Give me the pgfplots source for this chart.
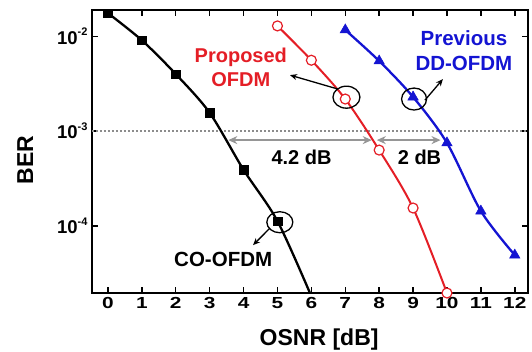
\documentclass[border=0pt]{standalone}
\usepackage{fontspec}
\setmainfont{Liberation Sans}
\usepackage{pgfplots}
\pgfplotsset{compat=1.18}
\usetikzlibrary{arrows.meta}
\definecolor{myred}{RGB}{228,30,38}
\definecolor{myblue}{RGB}{20,20,210}
\definecolor{mygray}{RGB}{150,150,150}
\definecolor{dotgray}{RGB}{140,140,140}
\newcommand{\mysup}[1]{\raisebox{0.85ex}{\fontsize{11}{11}\selectfont #1}}
\begin{document}
\begin{tikzpicture}
\begin{semilogyaxis}[
  at={(0,0)}, anchor=south west,
  scale only axis, width=436pt, height=283pt,
  xmin=-0.47, xmax=12.39, ymin=1.95e-5, ymax=1.9e-2,
  xtick={0,...,12},
  ytick={1e-4,1e-3,1e-2},
  yticklabels={10\mysup{-4},10\mysup{-3},10\mysup{-2}},
  minor tick style={draw=none},
  tick align=inside,
  xtick pos=both, ytick pos=both,
  axis line style={line width=1.8pt},
  major tick style={line width=1.5pt, black},
  major tick length=6pt,
  /pgf/number format/assume math mode=true,
  xticklabel style={font=\bfseries\fontsize{16}{16}\selectfont, xscale=1.3, yshift=-1pt},
  yticklabel style={font=\bfseries\fontsize{18.5}{18.5}\selectfont, xshift=-1pt},
  xlabel={OSNR [dB]},
  xlabel style={at={(axis description cs:0.521,-0.184)}, anchor=base, font=\bfseries\fontsize{23}{23}\selectfont},
  ylabel={BER},
  ylabel style={at={(axis description cs:-0.1353,0.47)}, anchor=base, font=\bfseries\fontsize{23}{23}\selectfont},
  clip mode=individual,
]
% reference line at 1e-3
\addplot[dotgray, dash pattern=on 2pt off 2pt, line width=1.6pt, forget plot] coordinates {(-0.47,1e-3) (12.39,1e-3)};

% CO-OFDM
\addplot[black, line width=2.3pt, smooth, mark=square*, mark size=4.3pt, mark indices={1,2,3,4,5,6}, mark options={solid, line width=0.5pt}]
  coordinates {(0,1.76e-2) (1,9.1e-3) (2,4.0e-3) (3,1.56e-3) (4,3.9e-4) (5,1.12e-4) (6,1.8e-5)};

% Proposed OFDM
\addplot[myred, line width=2pt, smooth, mark=*, mark size=5pt, mark options={solid, fill=white, draw=myred, line width=1.2pt}]
  coordinates {(5,1.29e-2) (6,5.6e-3) (7,2.18e-3) (8,6.3e-4) (9,1.54e-4) (10,1.95e-5)};

% Previous DD-OFDM
\addplot[myblue, line width=2.3pt, smooth, mark=triangle*, mark size=6pt, mark options={solid, fill=myblue, line width=0.5pt}]
  coordinates {(7,1.17e-2) (8,5.5e-3) (9,2.29e-3) (10,7.5e-4) (11,1.43e-4) (12,4.9e-5)};

% gap arrows
\draw[{Stealth[length=9pt,width=8pt]}-{Stealth[length=9pt,width=8pt]}, mygray, line width=1.8pt]
  (axis cs:3.55,8.03e-4) -- (axis cs:7.78,8.03e-4);
\draw[{Stealth[length=9pt,width=8pt]}-{Stealth[length=9pt,width=8pt]}, mygray, line width=1.8pt]
  (axis cs:7.93,8.03e-4) -- (axis cs:9.81,8.03e-4);
\node[anchor=base, font=\bfseries\fontsize{20}{20}\selectfont] at (axis cs:5.71,4.49e-4) {4.2 dB};
\node[anchor=base, font=\bfseries\fontsize{20}{20}\selectfont] at (axis cs:9.19,4.49e-4) {2 dB};

% callout ellipses
\draw[line width=1.3pt] (axis cs:7.035,2.28e-3) ellipse [x radius=13.5pt, y radius=11pt];
\draw[line width=1.3pt] (axis cs:9.03,2.18e-3) ellipse [x radius=12.5pt, y radius=11pt];
\draw[line width=1.3pt] (axis cs:5.07,1.09e-4) ellipse [x radius=13pt, y radius=10.5pt];

% callout arrows
\draw[-{Stealth[length=7pt,width=6pt]}, line width=1.3pt] (axis cs:6.78,2.78e-3) -- (axis cs:5.37,3.9e-3);
\draw[-{Stealth[length=7pt,width=6pt]}, line width=1.3pt] (axis cs:9.35,2.12e-3) -- (axis cs:9.88,3.54e-3);
\draw[-{Stealth[length=7pt,width=6pt]}, line width=1.3pt] (axis cs:4.78,9.46e-5) -- (axis cs:4.28,6.25e-5);

% labels
\node[anchor=base, text=myred, font=\bfseries\fontsize{20}{20}\selectfont] at (axis cs:3.92,5.26e-3) {Proposed};
\node[anchor=base, text=myred, font=\bfseries\fontsize{20}{20}\selectfont] at (axis cs:3.92,2.94e-3) {OFDM};
\node[anchor=base, text=myblue, font=\bfseries\fontsize{20.5}{20.5}\selectfont] at (axis cs:10.5,8.09e-3) {Previous};
\node[anchor=base, text=myblue, font=\bfseries\fontsize{20.5}{20.5}\selectfont] at (axis cs:10.5,4.41e-3) {DD-OFDM};
\node[anchor=base, text=black, font=\bfseries\fontsize{20.5}{20.5}\selectfont] at (axis cs:3.40,3.69e-5) {CO-OFDM};
\end{semilogyaxis}
\pgfresetboundingbox
\path (-92pt,-59pt) rectangle (440pt,293pt);
\end{tikzpicture}
\end{document}
